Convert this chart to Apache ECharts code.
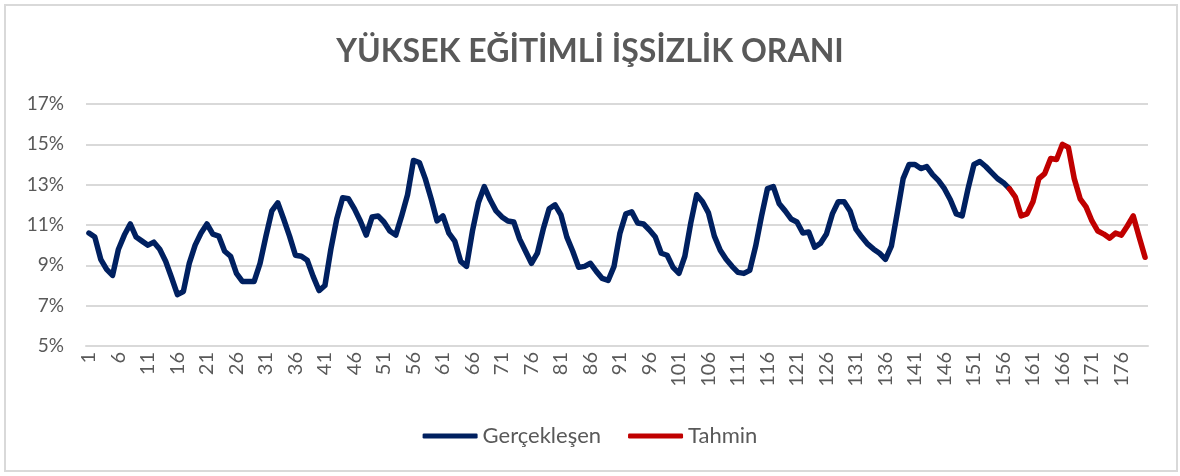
<!DOCTYPE html>
<html lang="tr">
<head>
  <meta charset="UTF-8">
  <title>Yüksek Eğitimli İşsizlik Oranı</title>
  <style>
    body { margin: 0; background: #fff; }
    #main { width: 1180px; height: 476px; }
  </style>
</head>
<body>
  <div id="main"></div>
</body>
<script src="https://cdn.jsdelivr.net/npm/echarts@6/dist/echarts.min.js"></script>
<script>
  // aylar 1..180
  const categories = [];
  for (let i = 1; i <= 180; i++) categories.push(String(i));

  // Gerçekleşen (1-157), %
  const actual = [
    10.6, 10.4, 9.3, 8.8, 8.5, 9.8, 10.5, 11.05, 10.4, 10.2,
    10.0, 10.15, 9.8, 9.2, 8.4, 7.55, 7.7, 9.1, 10.0, 10.6,
    11.05, 10.55, 10.45, 9.7, 9.45, 8.6, 8.2, 8.2, 8.2, 9.1,
    10.45, 11.7, 12.1, 11.3, 10.45, 9.5, 9.45, 9.25, 8.45, 7.75,
    8.0, 9.8, 11.3, 12.35, 12.3, 11.8, 11.2, 10.5, 11.4, 11.45,
    11.15, 10.7, 10.5, 11.45, 12.5, 14.2, 14.1, 13.3, 12.3, 11.2,
    11.45, 10.6, 10.2, 9.2, 8.95, 10.7, 12.1, 12.9, 12.25, 11.7,
    11.4, 11.2, 11.15, 10.3, 9.7, 9.1, 9.6, 10.8, 11.8, 12.0,
    11.5, 10.4, 9.7, 8.9, 8.95, 9.1, 8.7, 8.35, 8.25, 8.95,
    10.6, 11.55, 11.65, 11.1, 11.05, 10.75, 10.4, 9.6, 9.5, 8.9,
    8.6, 9.45, 11.1, 12.5, 12.15, 11.6, 10.45, 9.75, 9.3, 8.95,
    8.65, 8.6, 8.75, 9.95, 11.45, 12.8, 12.9, 12.05, 11.7, 11.3,
    11.15, 10.6, 10.65, 9.9, 10.1, 10.55, 11.55, 12.15, 12.15, 11.7,
    10.8, 10.4, 10.05, 9.8, 9.6, 9.3, 9.95, 11.6, 13.3, 14.0,
    14.0, 13.8, 13.9, 13.5, 13.2, 12.8, 12.25, 11.55, 11.45, 12.8,
    14.0, 14.15, 13.9, 13.6, 13.3, 13.1, 12.8
  ];

  // Tahmin (157-180), %
  const forecast = [
    12.8, 12.4, 11.45, 11.55, 12.15, 13.3, 13.55, 14.3, 14.25, 15.0,
    14.85, 13.3, 12.3, 11.9, 11.2, 10.7, 10.55, 10.35, 10.6, 10.5,
    10.95, 11.45, 10.4, 9.4
  ];

  const forecastStart = 157;

  const actualData = categories.map((c, i) => (i < actual.length ? actual[i] : null));
  const forecastData = categories.map((c, i) => (i >= forecastStart - 1 ? forecast[i - (forecastStart - 1)] : null));

  const textColor = '#595959';
  const font = 'Lato';

  const chart = echarts.init(document.getElementById('main'));

  chart.setOption({
    animation: false,
    textStyle: { fontFamily: font },
    title: {
      text: 'YÜKSEK EĞİTİMLİ İŞSİZLİK ORANI',
      left: 'center',
      top: 31,
      textStyle: { color: textColor, fontSize: 32, fontWeight: 'bold', fontFamily: font }
    },
    graphic: [{
      type: 'rect',
      shape: { x: 5, y: 5, width: 1172, height: 466 },
      style: { fill: 'none', stroke: '#d9d9d9', lineWidth: 2 },
      silent: true
    }],
    legend: {
      bottom: 24,
      left: 'center',
      icon: 'roundRect',
      itemWidth: 55,
      itemHeight: 5,
      itemGap: 27,
      textStyle: { color: textColor, fontSize: 22, fontFamily: font },
      data: ['Gerçekleşen', 'Tahmin']
    },
    grid: { left: 86, right: 32, top: 104, bottom: 130 },
    xAxis: {
      type: 'category',
      data: categories,
      boundaryGap: true,
      axisLine: { lineStyle: { color: '#d9d9d9', width: 2 } },
      axisTick: { show: false },
      axisLabel: {
        interval: 4,
        rotate: 90,
        color: textColor,
        fontSize: 20,
        margin: 6
      }
    },
    yAxis: {
      type: 'value',
      min: 5,
      max: 17,
      interval: 2,
      axisLine: { show: false },
      axisTick: { show: false },
      splitLine: { lineStyle: { color: '#d9d9d9', width: 2 } },
      axisLabel: {
        color: textColor,
        fontSize: 19,
        margin: 22,
        formatter: v => v + '%'
      }
    },
    series: [
      {
        name: 'Gerçekleşen',
        type: 'line',
        data: actualData,
        symbol: 'none',
        color: '#002060',
        lineStyle: { width: 5.5, cap: 'round', join: 'round' }
      },
      {
        name: 'Tahmin',
        type: 'line',
        data: forecastData,
        symbol: 'none',
        color: '#c00000',
        lineStyle: { width: 5.5, cap: 'round', join: 'round' }
      }
    ]
  });
</script>
</html>
